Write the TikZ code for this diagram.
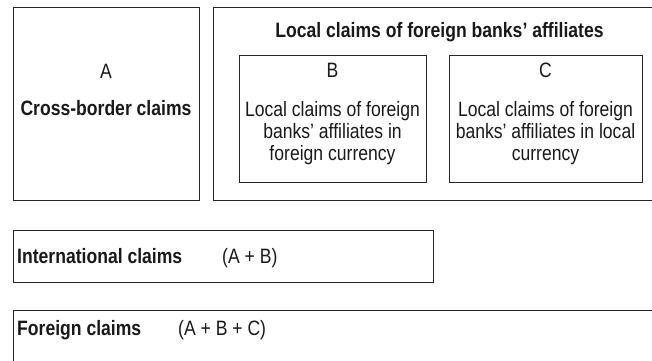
\documentclass[tikz,border=0pt]{standalone}
\usepackage{fontspec}
\setmainfont{Liberation Sans}[FakeStretch=0.845]
\begin{document}
\begin{tikzpicture}[x=1pt,y=-1pt,
  box/.style={draw=black!85, line width=1pt, inner sep=0pt, anchor=north west},
  txt/.style={inner sep=0pt, text=black!90, font=\fontsize{20.8}{21.7}\selectfont},
  bt/.style={txt, font=\fontsize{20.8}{21.7}\selectfont\bfseries}]
\useasboundingbox (0,0) rectangle (652,360);
\clip (0,0) rectangle (652,360);
% boxes
\node[box, minimum width=186pt, minimum height=193pt] (boxA) at (13,7) {};
\node[box, minimum width=452pt, minimum height=193pt] (outer) at (213,7) {};
\node[box, minimum width=187pt, minimum height=127pt] (boxB) at (239,55) {};
\node[box, minimum width=193pt, minimum height=127pt] (boxC) at (449,55) {};
\node[box, minimum width=420pt, minimum height=52pt] (intl) at (13,230) {};
\node[box, minimum width=652pt, minimum height=70pt] (forn) at (13,310) {};
% texts
\node[txt, anchor=base] (tA) at (106,78) {A};
\node[bt, anchor=base] (tAl) at (106,115) {Cross-border claims};
\node[bt, anchor=base] (title) at (439.5,37.5) {Local claims of foreign banks’ affiliates};
\node[txt, anchor=base] (tB) at (332.5,77.7) {B};
\node[txt, anchor=base, align=center] (tBl) at (332.5,160) {Local claims of foreign\\banks’ affiliates in\\foreign currency};
\node[txt, anchor=base] (tC) at (545.5,77.7) {C};
\node[txt, anchor=base, align=center] (tCl) at (545.5,160) {Local claims of foreign\\banks’ affiliates in local\\currency};
\node[bt, anchor=base west] (ti) at (17,263) {International claims};
\node[txt, anchor=base west] (tie) at (222,263) {(A + B)};
\node[bt, anchor=base west] (tf) at (17,335) {Foreign claims};
\node[txt, anchor=base west] (tfe) at (178,335) {(A + B + C)};
\end{tikzpicture}
\end{document}
